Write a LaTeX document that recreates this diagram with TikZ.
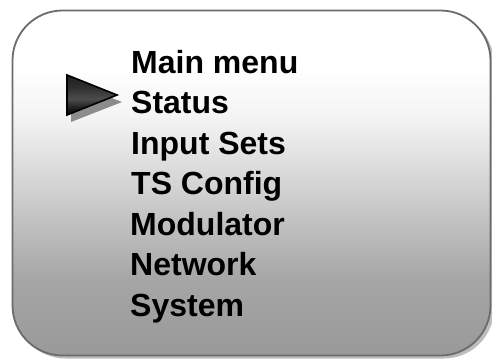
\documentclass[tikz,border=0pt]{standalone}
\usepackage{fontspec}
\setmainfont{Liberation Sans}
\definecolor{edgegray}{gray}{0.42}
\definecolor{shadowgray}{gray}{0.74}
\definecolor{pointershadow}{gray}{0.55}
% vertical fade of the panel: the path spans 25bp (bottom) to 75bp (top)
\pgfdeclareverticalshading{panelfade}{100bp}{%
  color(0bp)=(black!40); color(25bp)=(black!40);
  color(36bp)=(black!35); color(43bp)=(black!26);
  color(52bp)=(black!14); color(60bp)=(black!4);
  color(67bp)=(white); color(100bp)=(white)}
% glossy band across the pointer
\pgfdeclareverticalshading{pointerfade}{100bp}{%
  color(0bp)=(black!98); color(25bp)=(black!98);
  color(33bp)=(black!90); color(45bp)=(black!70);
  color(60bp)=(black!82); color(75bp)=(black!88); color(100bp)=(black!88)}
\tikzset{
  menuitem/.style={anchor=base west, inner sep=0pt, font=\fontsize{32}{36}\selectfont\bfseries},
}
\begin{document}
\begin{tikzpicture}[x=1pt, y=-1pt]
  \useasboundingbox (0,0) rectangle (492,360);
  % panel shadow
  \fill[shadowgray, rounded corners=50pt] (15.5,13.5) rectangle (494,358.5);
  % panel body with vertical fade
  \shade[shading=panelfade, rounded corners=50pt]
    (12.5,10.5) rectangle (490.5,355.5);
  \draw[edgegray, line width=1.8pt, rounded corners=50pt]
    (12.5,10.5) rectangle (490.5,355.5);
  % selection pointer with its shadow
  \fill[pointershadow] (71,82) -- (122,102) -- (71,122) -- cycle;
  \shade[shading=pointerfade] (67,75) -- (117,95) -- (67,115) -- cycle;
  \draw[black, line width=1.6pt, line join=miter] (67,75) -- (117,95) -- (67,115) -- cycle;
  % menu entries
  \node[menuitem] (title) at (131,73) {Main menu};
  \node[menuitem] (status) at (131,113.5) {Status};
  \node[menuitem] (inputs) at (131,154) {Input Sets};
  \node[menuitem] (tsconf) at (131,194.5) {TS Config};
  \node[menuitem] (modul) at (130,235) {Modulator};
  \node[menuitem] (network) at (130,275.5) {Network};
  \node[menuitem] (system) at (130,316) {System};
\end{tikzpicture}
\end{document}
